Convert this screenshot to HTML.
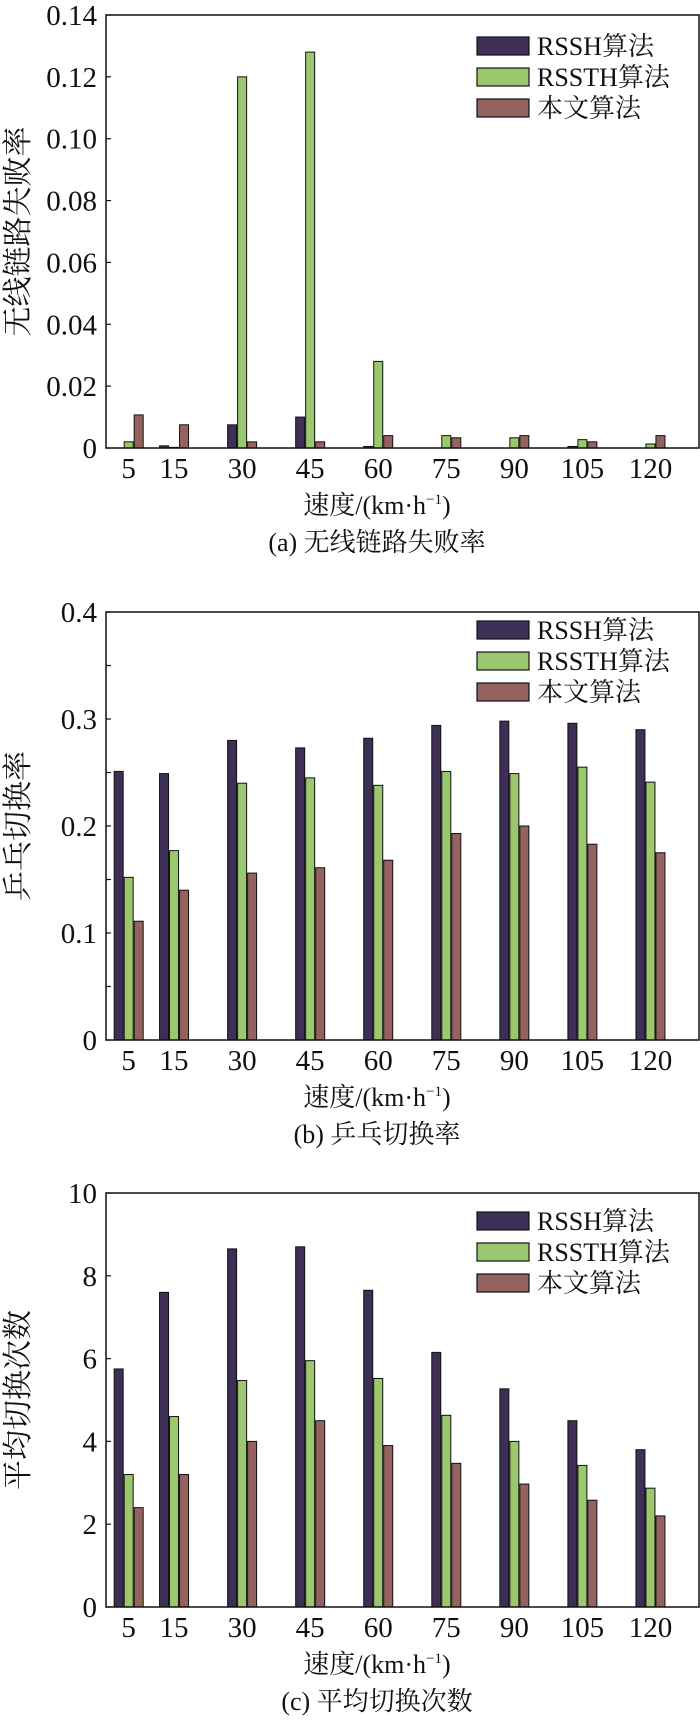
<!DOCTYPE html>
<html><head><meta charset="utf-8">
<style>
html,body{margin:0;padding:0;background:#fff;}
svg{display:block;}
text{font-family:"Liberation Serif","Noto Serif CJK SC",serif;fill:#111;}
</style></head>
<body>
<svg id="fig" width="700" height="1725" viewBox="0 0 700 1725" xmlns="http://www.w3.org/2000/svg"></svg>
<script>
const categories = [5, 15, 30, 45, 60, 75, 90, 105, 120];
const seriesNames = ["RSSH算法", "RSSTH算法", "本文算法"];
const rlfRSSH  = [0, 0.0007, 0.0075, 0.010, 0.0005, 0, 0, 0.0005, 0];
const rlfRSSTH = [0.002, 0.0002, 0.120, 0.128, 0.028, 0.004, 0.0033, 0.0027, 0.0013];
const rlfOurs  = [0.0107, 0.0075, 0.002, 0.002, 0.004, 0.0033, 0.004, 0.002, 0.004];
const ppRSSH  = [0.251, 0.249, 0.280, 0.273, 0.282, 0.294, 0.298, 0.296, 0.290];
const ppRSSTH = [0.152, 0.177, 0.240, 0.245, 0.238, 0.251, 0.249, 0.255, 0.241];
const ppOurs  = [0.111, 0.140, 0.156, 0.161, 0.168, 0.193, 0.200, 0.183, 0.175];
const hoRSSH  = [5.75, 7.6, 8.65, 8.7, 7.65, 6.15, 5.27, 4.5, 3.8];
const hoRSSTH = [3.2, 4.6, 5.47, 5.95, 5.52, 4.63, 4.0, 3.42, 2.87];
const hoOurs  = [2.4, 3.2, 4.0, 4.5, 3.9, 3.47, 2.97, 2.58, 2.2];
const ticksA = ["0", "0.02", "0.04", "0.06", "0.08", "0.10", "0.12", "0.14"];
const ticksB = ["0", "0.1", "0.2", "0.3", "0.4"];
const ticksC = ["0", "2", "4", "6", "8", "10"];

const NS = "http://www.w3.org/2000/svg";
const svg = document.getElementById("fig");
const colors = ["#3d2f55", "#9bc86e", "#946360"];
function mk(tag, attrs, parent) {
  const e = document.createElementNS(NS, tag);
  for (const k in attrs) e.setAttribute(k, attrs[k]);
  (parent || svg).appendChild(e);
  return e;
}
function drawChart(cfg) {
  const g = mk("g", {});
  
  
  const L = 106, R = 699, T = cfg.top, B = cfg.bottom;
  const xs = v => L + (v / 130.7) * (R - L);
  const ys = v => B - (v / cfg.max) * (B - T);
  cfg.series.forEach((vals, si) => {
    vals.forEach((v, i) => {
      const cx = xs(categories[i]) + (si - 1) * 10;
      const y = ys(v);
      const r = mk("rect", {x: cx - 4.5, y: y, width: 9, height: Math.max(B - y, 0), fill: colors[si], stroke: "#111", "stroke-width": 1}, g);
      
      
    });
  });
  const f = mk("rect", {x: L, y: T, width: R - L, height: B - T, fill: "none", stroke: "#111", "stroke-width": 1.5}, g);
  
  
  cfg.ticks.forEach(t => {
    const y = ys(parseFloat(t));
    mk("line", {x1: L, x2: L + 5, y1: y, y2: y, stroke: "#111", "stroke-width": 1.2}, g);
    const tx = mk("text", {x: L - 9, y: y + 10, "text-anchor": "end", "font-size": 29}, g);
    tx.textContent = t;
    
    
  });
  if (cfg.minor) {
    cfg.minor.forEach(v => {
      const y = ys(v);
      mk("line", {x1: L, x2: L + 5, y1: y, y2: y, stroke: "#111", "stroke-width": 1.2}, g);
    });
  }
  categories.forEach(c => {
    const tx = mk("text", {x: xs(c), y: B + 30, "text-anchor": "middle", "font-size": 29}, g);
    tx.textContent = c;
    
    
  });
  const xt = mk("text", {x: 377, y: B + 66, "text-anchor": "middle", "font-size": 26}, g);
  xt.innerHTML = '速度/(km·h<tspan dy="-10" font-size="15">−1</tspan><tspan dy="10">)</tspan>';
  
  
  const cp = mk("text", {x: 377, y: B + 103, "text-anchor": "middle", "font-size": 26}, g);
  cp.textContent = cfg.caption;
  
  
  const yc = (T + B) / 2;
  const yt = mk("text", {x: 0, y: 0, "text-anchor": "middle", "font-size": 30, transform: "translate(28," + yc + ") rotate(-90)"}, g);
  yt.textContent = cfg.ytitle;
  
  
  seriesNames.forEach((n, i) => {
    const cy = cfg.legendY + i * 31;
    const sw = mk("rect", {x: 477, y: cy - 9, width: 52, height: 18, fill: colors[i], stroke: "#111", "stroke-width": 1.2}, g);
    
    
    const lt = mk("text", {x: 537, y: cy + 9, "font-size": 26}, g);
    lt.textContent = n;
    
    
  });
}
drawChart({name: "chart-radio-link-failure", key: "a", top: 15, bottom: 448, max: 0.14, ticks: ticksA,
  series: [rlfRSSH, rlfRSSTH, rlfOurs], caption: "(a) 无线链路失败率", ytitle: "无线链路失败率", legendY: 46});
drawChart({name: "chart-ping-pong-rate", key: "b", top: 612, bottom: 1040, max: 0.4, ticks: ticksB, minor: [0.05, 0.15, 0.25, 0.35],
  series: [ppRSSH, ppRSSTH, ppOurs], caption: "(b) 乒乓切换率", ytitle: "乒乓切换率", legendY: 630});
drawChart({name: "chart-avg-handover-count", key: "c", top: 1193, bottom: 1607, max: 10, ticks: ticksC,
  series: [hoRSSH, hoRSSTH, hoOurs], caption: "(c) 平均切换次数", ytitle: "平均切换次数", legendY: 1221});
</script>
</body></html>
